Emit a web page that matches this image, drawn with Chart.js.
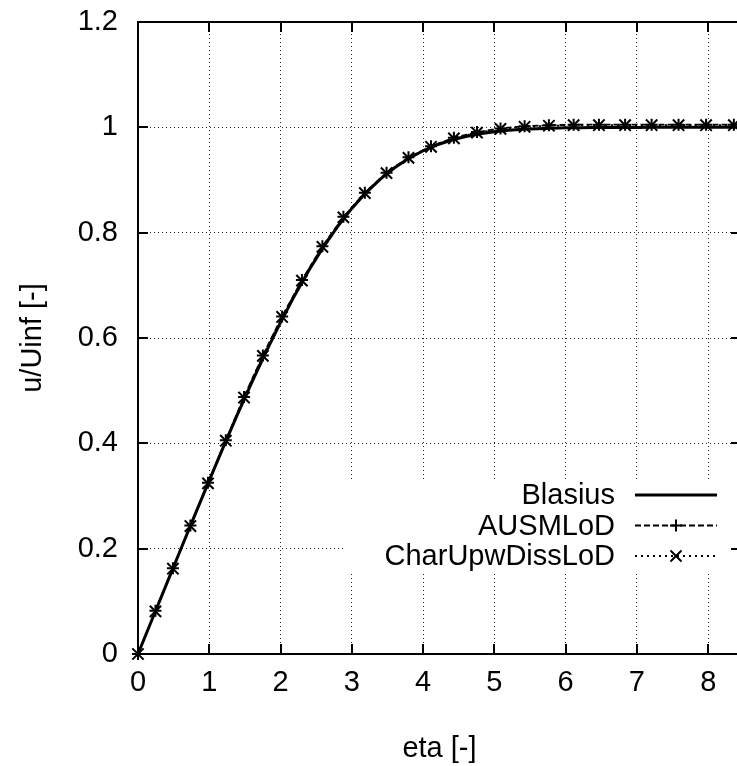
<!DOCTYPE html>
<html><head><meta charset="utf-8">
<script src="https://cdn.jsdelivr.net/npm/chart.js@4.4.0/dist/chart.umd.min.js"></script>
<style>
html,body{margin:0;padding:0;background:#fff;overflow:hidden;width:737px;height:766px;}
#wrap{position:relative;width:751px;height:766px;}
canvas{display:block;}
</style></head><body>
<div id="wrap"><canvas id="c" width="751" height="766" style="width:751px;height:766px"></canvas></div>
<script>
// ---- data ----
const blasiusEta = [0,0.2,0.4,0.6,0.8,1.0,1.2,1.4,1.6,1.8,2.0,2.2,2.4,2.6,2.8,3.0,3.2,3.4,3.6,3.8,4.0,4.2,4.4,4.6,4.8,5.0,5.2,5.4,5.6,5.8,6.0,6.2,6.4,6.6,6.8,7.0,7.2,7.4,7.6,7.8,8.0,8.2,8.4,8.6,8.8];
const blasiusU = [0,0.06641,0.13277,0.19894,0.26471,0.32979,0.39378,0.45627,0.51676,0.57477,0.62977,0.68132,0.72899,0.77246,0.81152,0.84605,0.87609,0.90177,0.92333,0.94112,0.95552,0.96696,0.97587,0.98269,0.98779,0.99155,0.99425,0.99616,0.99748,0.99838,0.99898,0.99937,0.99961,0.99977,0.99987,0.99992,0.99996,0.99998,0.99999,1,1,1,1,1,1];
const cfdEta = [0,0.245,0.49,0.735,0.982,1.232,1.488,1.752,2.022,2.300,2.587,2.882,3.183,3.487,3.795,4.111,4.432,4.756,5.086,5.424,5.765,6.112,6.467,6.834,7.206,7.584,7.970,8.360,8.760];
const ausmU = [0,0.082,0.163,0.244,0.325,0.406,0.488,0.567,0.641,0.710,0.774,0.830,0.876,0.914,0.943,0.964,0.980,0.991,0.998,1.002,1.004,1.005,1.005,1.005,1.005,1.005,1.005,1.005,1.005];
const charU = [0,0.081,0.162,0.243,0.324,0.405,0.487,0.566,0.640,0.709,0.773,0.829,0.875,0.913,0.942,0.963,0.979,0.990,0.997,1.001,1.003,1.004,1.004,1.004,1.004,1.004,1.004,1.004,1.004];
const seriesNames = ['Blasius','AUSMLoD','CharUpwDissLoD'];
const xTickValues = [0,1,2,3,4,5,6,7,8];
const xTickLabels = ['0','1','2','3','4','5','6','7','8'];
const yTickValues = [0,0.2,0.4,0.6,0.8,1.0,1.2];
const yTickLabels = ['0','0.2','0.4','0.6','0.8','1','1.2'];
const xTitle = 'eta [-]';
const yTitle = 'u/Uinf [-]';

const FONT = '"Liberation Sans", Arial, Helvetica, sans-serif';
const pts = (xs, ys) => xs.map((v, i) => ({x: v, y: ys[i]}));

const styles = [
  {dash: [], width: 3, marker: null},
  {dash: [6, 3], width: 1.8, marker: 'cross'},
  {dash: [2, 4], width: 1.8, marker: 'crossRot'}
];

function drawMarker(ctx, type, x, y) {
  ctx.beginPath();
  if (type === 'cross') {
    const r = 6;
    ctx.moveTo(x - r, y); ctx.lineTo(x + r, y);
    ctx.moveTo(x, y - r); ctx.lineTo(x, y + r);
  } else if (type === 'crossRot') {
    const r = 5.5;
    ctx.moveTo(x - r, y - r); ctx.lineTo(x + r, y + r);
    ctx.moveTo(x - r, y + r); ctx.lineTo(x + r, y - r);
  }
  ctx.stroke();
}

const framePlugin = {
  id: 'frame',
  beforeDatasetsDraw(chart) {
    const {ctx, chartArea: a, scales: {x, y}} = chart;
    ctx.save();
    // opaque key box
    const keyTop = a.bottom - 173, keyH = 90;
    ctx.fillStyle = '#fff';
    ctx.fillRect(345, keyTop, a.right - 345, keyH);
    // key entries
    ctx.font = '29px ' + FONT;
    ctx.textAlign = 'right';
    ctx.textBaseline = 'middle';
    ctx.strokeStyle = '#000';
    ctx.fillStyle = '#000';
    const textRight = a.right - 126, sx0 = a.right - 106, sx1 = a.right - 24;
    seriesNames.forEach((name, i) => {
      const yy = a.bottom - 159 + i * 30.5;
      ctx.fillText(name, textRight, yy + 1);
      const st = styles[i];
      ctx.lineWidth = st.width;
      ctx.setLineDash(st.dash);
      ctx.beginPath(); ctx.moveTo(sx0, yy); ctx.lineTo(sx1, yy); ctx.stroke();
      ctx.setLineDash([]);
      if (st.marker) { ctx.lineWidth = 2; drawMarker(ctx, st.marker, (sx0 + sx1) / 2, yy); }
    });
    // frame
    ctx.setLineDash([]);
    ctx.lineWidth = 2;
    ctx.strokeStyle = '#000';
    ctx.strokeRect(a.left, a.top, a.right - a.left, a.bottom - a.top);
    // inward mirrored ticks
    ctx.beginPath();
    yTickValues.forEach(v => {
      const py = Math.round(y.getPixelForValue(v));
      ctx.moveTo(a.left, py); ctx.lineTo(a.left + 10, py);
      ctx.moveTo(a.right, py); ctx.lineTo(a.right - 10, py);
    });
    xTickValues.forEach(v => {
      const px = Math.round(x.getPixelForValue(v));
      ctx.moveTo(px, a.bottom); ctx.lineTo(px, a.bottom - 10);
      ctx.moveTo(px, a.top); ctx.lineTo(px, a.top + 10);
    });
    ctx.stroke();
    ctx.restore();
  }
};

const gridOpts = {color: 'rgba(0,0,0,0.85)', lineWidth: 1, drawTicks: false};
const tickFont = {family: FONT, size: 29};
const zeroPad = s => { s.paddingTop = 0; s.paddingBottom = 0; s.paddingLeft = 0; s.paddingRight = 0; };

new Chart(document.getElementById('c'), {
  type: 'scatter',
  data: {
    datasets: [
      {label: seriesNames[0], data: pts(blasiusEta, blasiusU), showLine: true, borderColor: '#000', borderWidth: 3, pointRadius: 0, order: 3, clip: false},
      {label: seriesNames[1], data: pts(cfdEta, ausmU), showLine: true, borderColor: '#000', borderWidth: 1.8, borderDash: [6, 3], pointStyle: 'cross', pointRadius: 6, pointBorderWidth: 2, pointBorderColor: '#000', pointBackgroundColor: '#000', order: 2, clip: false},
      {label: seriesNames[2], data: pts(cfdEta, charU), showLine: true, borderColor: '#000', borderWidth: 1.8, borderDash: [2, 4], pointStyle: 'crossRot', pointRadius: 8, pointBorderWidth: 2, pointBorderColor: '#000', pointBackgroundColor: '#000', order: 1, clip: false}
    ]
  },
  options: {
    responsive: false,
    animation: false,
    events: [],
    layout: {padding: {top: 22, left: 0, right: 2, bottom: 0}},
    plugins: {legend: {display: false}, tooltip: {enabled: false}},
    scales: {
      x: {
        type: 'linear', min: 0, max: 8.46,
        afterBuildTicks: s => { s.ticks = xTickValues.map(v => ({value: v})); },
        afterFit: s => { s.height = 112; zeroPad(s); },
        ticks: {callback: (v, i) => xTickLabels[i], font: tickFont, color: '#000', padding: 12, maxRotation: 0, autoSkip: false},
        grid: gridOpts,
        border: {display: false, dash: [1, 3]},
        title: {display: true, text: xTitle, font: {family: FONT, size: 29}, color: '#000', padding: {top: 0, bottom: 0}}
      },
      y: {
        type: 'linear', min: 0, max: 1.2,
        afterBuildTicks: s => { s.ticks = yTickValues.map(v => ({value: v})); },
        afterFit: s => { s.width = 138; zeroPad(s); },
        ticks: {callback: (v, i) => yTickLabels[i], font: tickFont, color: '#000', padding: 20, autoSkip: false},
        grid: gridOpts,
        border: {display: false, dash: [1, 3]},
        title: {display: true, text: yTitle, font: {family: FONT, size: 29}, color: '#000', padding: {top: 16, bottom: 0}}
      }
    }
  },
  plugins: [framePlugin]
});
</script>
</body></html>
